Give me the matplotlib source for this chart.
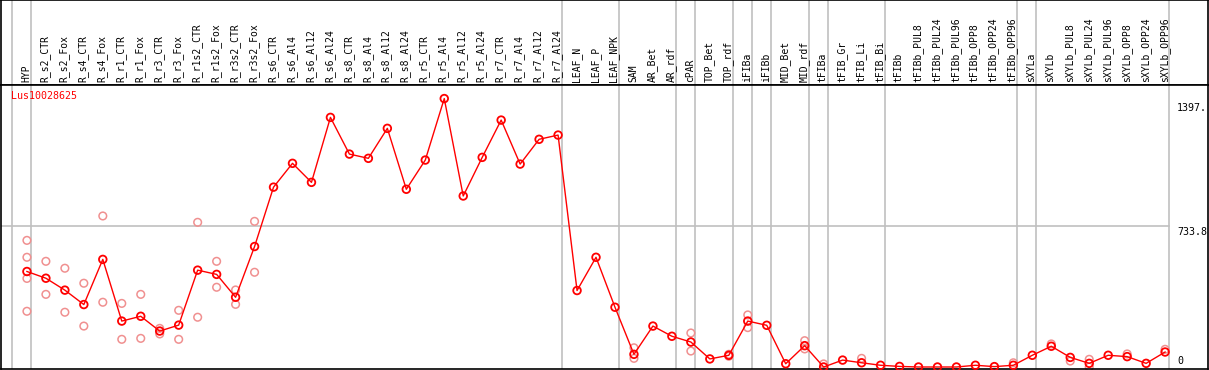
import matplotlib
matplotlib.use("Agg")
import matplotlib.pyplot as plt
import numpy as np

# ---------------- data ----------------
gene = "Lus10028625"
samples = ["HYP", "R_s2_CTR", "R_s2_Fox", "R_s4_CTR", "R_s4_Fox", "R_r1_CTR", "R_r1_Fox",
           "R_r3_CTR", "R_r3_Fox", "R_r1s2_CTR", "R_r1s2_Fox", "R_r3s2_CTR", "R_r3s2_Fox",
           "R_s6_CTR", "R_s6_Al4", "R_s6_Al12", "R_s6_Al24", "R_s8_CTR", "R_s8_Al4",
           "R_s8_Al12", "R_s8_Al24", "R_r5_CTR", "R_r5_Al4", "R_r5_Al12", "R_r5_Al24",
           "R_r7_CTR", "R_r7_Al4", "R_r7_Al12", "R_r7_Al24", "LEAF_N", "LEAF_P", "LEAF_NPK",
           "SAM", "AR_Bet", "AR_rdf", "cPAR", "TOP_Bet", "TOP_rdf", "iFIBa", "iFIBb",
           "MID_Bet", "MID_rdf", "tFIBa", "tFIB_Gr", "tFIB_Li", "tFIB_Bi", "tFIBb",
           "tFIBb_PUL8", "tFIBb_PUL24", "tFIBb_PUL96", "tFIBb_OPP8", "tFIBb_OPP24",
           "tFIBb_OPP96", "sXYLa", "sXYLb", "sXYLb_PUL8", "sXYLb_PUL24", "sXYLb_PUL96",
           "sXYLb_OPP8", "sXYLb_OPP24", "sXYLb_OPP96"]

means = [497, 462, 400, 325, 560, 239, 264, 187, 218, 504, 482, 363, 627,
         936, 1060, 961, 1299, 1108, 1086, 1242, 925, 1077, 1397, 890, 1091,
         1285, 1056, 1185, 1207, 398, 571, 311,
         66, 213, 160, 130, 42, 61, 239, 217,
         17, 111, 0, 36, 22, 9, 3,
         0, 0, 0, 9, 2, 9,
         61, 108, 50, 19, 61, 54, 19, 78]

# replicate measurements (sample index, value)
rep_idx = [0, 0, 0, 0, 1, 1, 2, 2, 3, 3, 4, 4, 5, 5, 6, 6, 7, 7, 8, 8,
           9, 9, 10, 10, 11, 11, 12, 12,
           32, 32, 35, 35, 37, 37, 38, 38, 41, 41, 42, 44,
           52, 54, 55, 56, 56, 58, 60]
rep_val = [659, 571, 461, 290, 550, 378, 514, 285, 436, 213, 786, 337, 331, 144,
           378, 149, 201, 172, 295, 144, 753, 259, 550, 415, 401, 326, 758, 493,
           100, 45, 177, 83, 66, 56, 271, 205, 137, 94, 16, 45,
           22, 120, 31, 40, 0, 68, 92]

group_ends = [-1, 0, 28, 31, 34, 35, 37, 38, 39, 41, 42, 45, 52, 53, 60]
ymax = 1467.6
tick_vals = [1397, 733.8, 0]
tick_text = ["1397.", "733.8", "0"]

# ---------------- layout ----------------
W, H = 1209, 370
fig = plt.figure(figsize=(W / 100, H / 100), dpi=100)
mono = "DejaVu Sans Mono"

x0, dx = 26.0, 19.0
xlim = (-x0 / dx, (W - x0) / dx)
hdr_px = 85
bot_px = 369
zero_px = 367
ppu = (zero_px - hdr_px) / ymax
ylim = (-(bot_px - zero_px) / ppu, ymax)

ax_h = fig.add_axes([0.0008, (H - hdr_px) / H, 0.9984, hdr_px / H])
ax = fig.add_axes([0.0008, (H - bot_px) / H, 0.9984, (bot_px - hdr_px) / H])

for a in (ax, ax_h):
    a.set_xlim(*xlim)
    a.set_xticks([])
    a.set_yticks([])
    for s in a.spines.values():
        s.set_color("black")
        s.set_linewidth(1.2)
    for g in group_ends:
        a.axvline(g + 4.0 / dx, color="#c0c0c0", lw=1.2, zorder=0)
ax_h.set_ylim(0, hdr_px)
ax.set_ylim(*ylim)

# header labels
for i, name in enumerate(samples):
    ax_h.text(i - 0.05, 2.5, name, rotation=90, ha="center", va="bottom",
              fontsize=7.0, family=mono, color="black")

# horizontal grid line at middle value
xfrac_end = (1170 - 0) / W
ax.axhline(tick_vals[1], xmin=0, xmax=xfrac_end, color="#c0c0c0", lw=1.2, zorder=0)

# right-hand value labels
xt = (1178 - x0) / dx
ax.text(xt, tick_vals[0] - 4 / ppu, tick_text[0], ha="left", va="top", fontsize=7.2, family=mono)
ax.text(xt, tick_vals[1] - 1 / ppu, tick_text[1], ha="left", va="top", fontsize=7.2, family=mono)
ax.text(xt, tick_vals[2] + 1 / ppu, tick_text[2], ha="left", va="bottom", fontsize=7.2, family=mono)

# gene name
ax.text((10 - x0) / dx, ymax - 6 / ppu, gene, ha="left", va="top", fontsize=7.2,
        family=mono, color="red")

# replicates
ax.scatter(rep_idx, rep_val, s=30, facecolors="none", edgecolors="#f09090",
           linewidths=1.1, zorder=2, clip_on=False)

# means
xs = np.arange(len(samples))
ax.plot(xs, means, color="red", lw=1.0, zorder=3, clip_on=False)
ax.scatter(xs, means, s=30, facecolors="none", edgecolors="red", linewidths=1.3,
           zorder=4, clip_on=False)

fig.savefig("out.png", dpi=100)
